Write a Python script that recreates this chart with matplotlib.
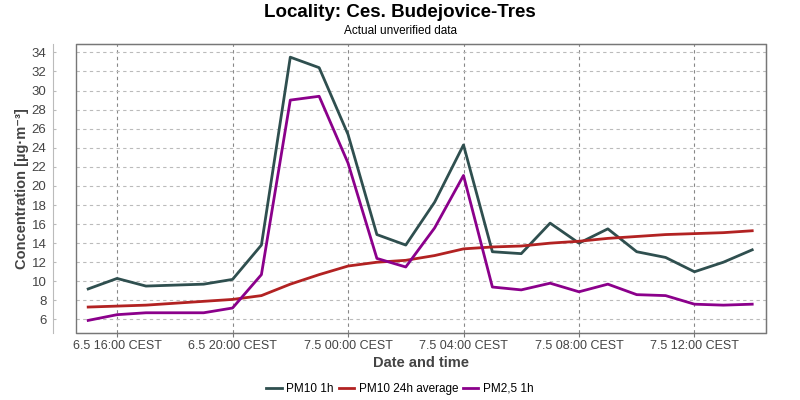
import matplotlib.pyplot as plt
from matplotlib.patches import Rectangle
import pandas as pd

plt.rcParams['font.family'] = ['Liberation Sans', 'DejaVu Sans']

# Hourly measurements, 6.5 15:00 .. 7.5 14:00
times = pd.date_range('2024-05-06 15:00', '2024-05-07 14:00', freq='h')

pm10_1h = [9.2, 10.3, 9.5, 9.6, 9.7, 10.2, 13.8, 33.5, 32.4, 25.4, 14.9, 13.8,
           18.3, 24.3, 13.1, 12.9, 16.1, 14.0, 15.5, 13.1, 12.5, 11.0, 12.0, 13.3]
pm10_24h = [7.3, 7.4, 7.5, 7.7, 7.9, 8.1, 8.5, 9.7, 10.7, 11.6, 12.0, 12.2,
            12.7, 13.4, 13.6, 13.7, 14.0, 14.2, 14.5, 14.7, 14.9, 15.0, 15.1, 15.3]
pm25_1h = [5.9, 6.5, 6.7, 6.7, 6.7, 7.2, 10.7, 29.0, 29.4, 22.4, 12.4, 11.5,
           15.6, 21.1, 9.4, 9.1, 9.8, 8.9, 9.7, 8.6, 8.5, 7.6, 7.5, 7.6]

tick_times = pd.to_datetime(['2024-05-06 16:00', '2024-05-06 20:00', '2024-05-07 00:00',
                             '2024-05-07 04:00', '2024-05-07 08:00', '2024-05-07 12:00'])
tick_labels = ['6.5 16:00 CEST', '6.5 20:00 CEST', '7.5 00:00 CEST',
               '7.5 04:00 CEST', '7.5 08:00 CEST', '7.5 12:00 CEST']
y_ticks = list(range(6, 35, 2))

fig = plt.figure(figsize=(8, 4), dpi=100)
ax = fig.add_axes([0.0946, 0.168, 0.8625, 0.721])

ax.plot(times, pm10_1h, color='#2F4F4F', lw=2, label='PM10 1h')
ax.plot(times, pm10_24h, color='#B22222', lw=2, label='PM10 24h average')
ax.plot(times, pm25_1h, color='#8B008B', lw=2, label='PM2,5 1h')

ax.set_xlim(times[0] - pd.Timedelta(minutes=26), times[-1] + pd.Timedelta(minutes=28))
ax.set_ylim(4.6, 34.84)

ax.set_yticks(y_ticks)
ax.set_xticks(tick_times)
ax.set_xticklabels(tick_labels)

ax.grid(axis='y', color='#bbbbbb', ls=(0, (3, 3)), lw=0.8)
ax.grid(axis='x', color='#888888', ls=(0, (3, 3)), lw=0.8)
ax.set_axisbelow(True)

for s in ['top', 'right', 'bottom']:
    ax.spines[s].set_color('#777777')
ax.spines['left'].set_position(('outward', 16))
ax.spines['left'].set_color('#bbbbbb')
ax.add_patch(Rectangle((0, 0), 1, 1, transform=ax.transAxes, fill=False,
                       edgecolor='#777777', lw=1, clip_on=False, zorder=5))

ax.tick_params(axis='y', direction='in', length=2.5, color='#bbbbbb', pad=5,
               labelsize=9.5, labelcolor='#444444')
ax.tick_params(axis='x', length=3, color='#777777', pad=2, labelsize=9, labelcolor='#444444')

ax.set_ylabel('Concentration [µg·m⁻³]', fontsize=10.5, fontweight='bold', color='#444444', labelpad=2)
ax.set_xlabel('Date and time', fontsize=10.5, fontweight='bold', color='#444444', labelpad=3)

fig.text(0.5, 0.968, 'Locality: Ces. Budejovice-Tres', ha='center', va='center',
         fontsize=13.5, fontweight='bold')
fig.text(0.5, 0.922, 'Actual unverified data', ha='center', va='center', fontsize=8.5)

fig.legend(loc='center', bbox_to_anchor=(0.5, 0.028), ncol=3, frameon=False,
           fontsize=8.5, handlelength=1.3, handletextpad=0.4, columnspacing=0.4)

fig.savefig('out.png', dpi=100)
